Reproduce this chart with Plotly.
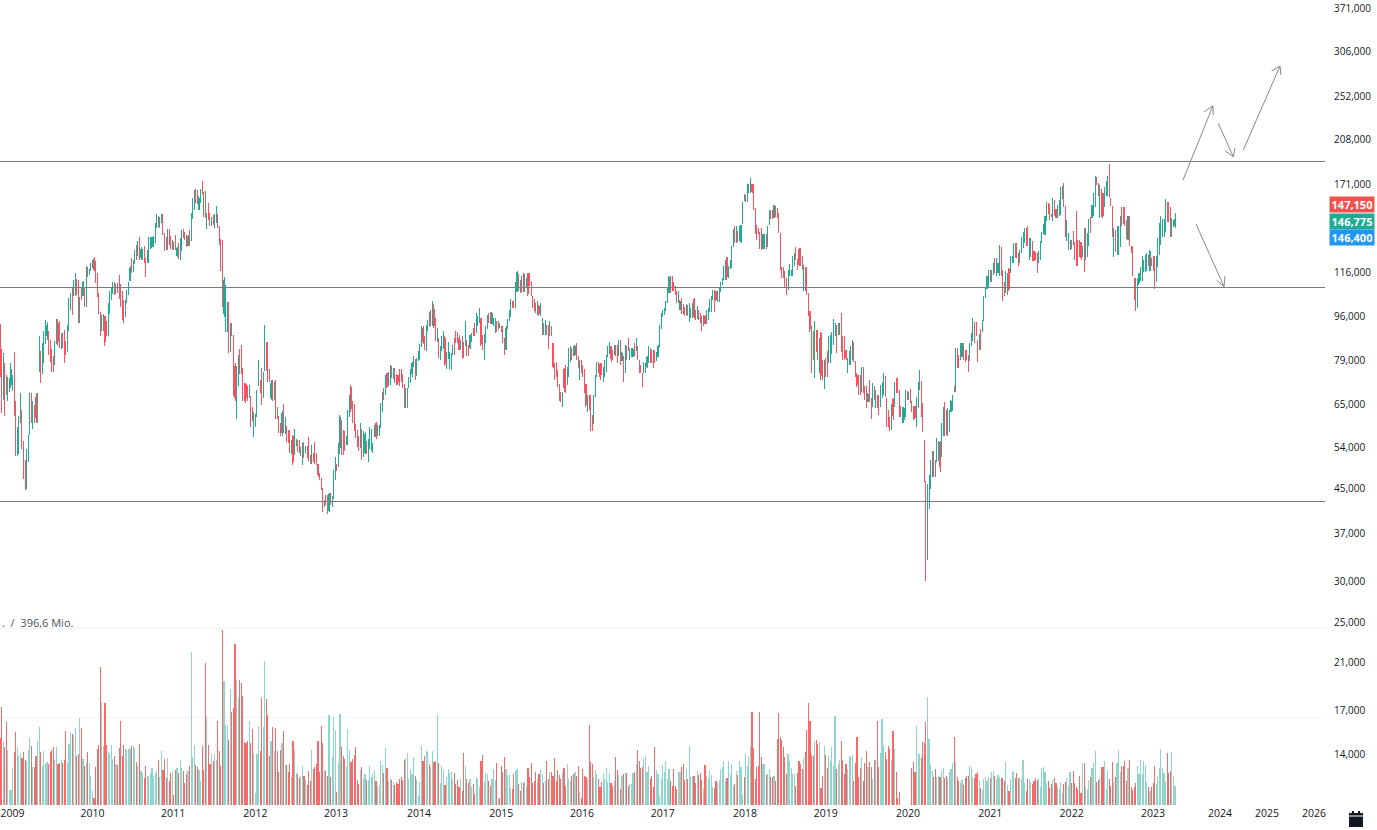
import plotly.graph_objects as go
import math

# Weekly candles (open, high, low, close) in thousands
candles_a = [
(88,92.7,73.6,76),(82,83,62.7,65),(68,81.6,66.5,79),(77,78,62,65),(73,74,68,70),(67,73.6,66,72),(69,73,69,72),(71,78,70,76),(72,74,69,73),(81,82,62,64),
(65,66,52,53),(53,59,52,58),(54,62,52.5,61),(61,68.4,60,67),(63,63.6,53.5,55),(55,55.5,47,48),(51,51,44.8,45.5),(46,53.5,45,52),(52,57,50.5,56),(57,68.4,57,67),
(68,68.4,60,61),(60,66,58.5,65),(64,65,60,61),(67,68.4,60,61.5),(61,68.4,60,67.5),(76,88,75,86),(82,82,71.5,73),(75,85.2,74.5,84),(79,90,78,88),(86,94.5,85,93),
(88,93.5,86.5,92),(89,90,81,82),(85,86.5,78.5,80),(82,83,75,77),(79,80.5,75,76),(78,86,77.5,85),(85,94.6,84.8,93),(93,94.6,84,86),(92,94,83.5,85),(84,89,83,88),
(87,89,83.5,85),(89,90.3,78,80),(85,86,81,82),(83,92.4,82,91),(90,104,90,103),(99,106,99,105),(107,108.5,96.5,98),(106,112.5,105,111),(106,116,105,114.5),(112,113,105.5,107),
(111,112.5,93,95),(95,104.5,93,103),(108,109,103,104),(105,112,105,111),(108,109,100,102),(101,119.5,100,118),(118,119,114,115),(115,118,115,117),(117,121,117,120),(119,123,119,122),
(123,124.5,117,118),(120,122,111,113),(113,116,104.5,106),(104,106,97,98),(97,97.5,88,89),(90,96.5,90,95),(91,97,90,96),(96,96,84,86),(93,94,88,89),(89,101.5,88,100),
(97,107,97,106),(104,109,103,108),(106,111.5,106,110),(110,111.5,105.5,107),(106,110.5,106,109.5),(110,111,106,107),(114,115,103.5,105),(108,110.5,100,102),(104,107,94.5,96),(98,103,93,94.5),
(96,103,96,102),(102,107.5,102,107),(106,111.5,105.5,110.5),(112,119.5,112,118.5),(123,124,116,117.5),(117,123,116.5,122),(121,128.5,121,127.5),(130,131,123,124),(125,133.5,125,132),(135,135.5,123,125),
(124,130,123,128.5),(124,129,123,128),(130,130.5,121,122.5),(123,124,114,115.5),(122,128,121,127),(122,136,121,134.5),(130,136,129,135),(130,136,129.5,135.5),(131,136.5,130,135),(133,144.5,132,143),
(142,150,141,149),(148,149,142,143),(143,148,141,147),(145,150,145,149),(148,150,137,138),(138,138,127.5,129),(134,136,128.5,130),(131,140.5,128.5,139),(140,140.5,131,132),(135,136.5,129,130),
(130,134,128,133),(132,133,128,129),(135,137,128,129.5),(125,130,124.5,129),(131,132,123.5,125),(124,135,123,134),(128,140,128,139),(139,140.5,135,136),(138,139,134,135),(136,137,130,131),
(131,137,130.5,136),(139,140,130.5,132),(134,151,134,150),(147,161,147,160),(153,167,153,165),(167,168,157.5,159),(164,167,157,158),(153,162.5,153,161),(158,168,158,167),(173,173,164,165),
(165,165.5,148,150),(158,166,147.5,149),(141,151,141,149.5),(157,157.5,146.5,148),(150,151,142.5,143.5),(143,148.5,142.5,147.5),(149,149.5,143,144),(142,150,141,149),(145,155.5,144.5,154.5),(149,150,141,142),
(142,142,131,132),(134,134.5,117,118),(122,134,100,102),(97,114,95.5,112),(90,110,89.5,108),(90,102,89.5,100),(101,102,81.5,83),(83,93,82,92),(93,93,88,89),(88,88.5,67.5,69),
(77,78,66,67),(62,77,61,75.5),(71,81,70.5,80),(82,83,74.5,76),(84,84.5,74.5,76),(76,76.3,66,67),(71,71.5,66,67),(71,71.5,65.5,67),(70,70.5,66,67),(67,71,67,70),
(67,67.5,59,60),(64,64.5,60.5,61),(57,63,56.5,62),(60,62.5,59,62),(62,69.5,61.7,69),(71,79,70.5,78),(72,72.5,68.5,69),(76,76.5,65,66),(67,75,67,74),(76,92.4,75.5,91),
(85,85.5,75.5,77),(85,85.5,72,73.5),(75.5,76,72,73),(67,72.5,66.5,71.5),(72,72.5,66,67),(67,72,66.5,71),(72,72.5,61,62),(64,64.5,61,61.5),(61.5,62,57.5,58),(59.5,60,56.8,57.5),
(57.5,63.2,56.8,62.5),(65,65,57.5,59),(57.5,61.5,57.3,61),(59,59.2,55.3,56),(58,58.3,55,55.5),(58,58.3,52.7,53.5),(53,55.8,52.3,55),(56.5,57,50,50.8),(53,58.5,52.2,57.5),(54.5,56,54.2,55.6),
(55.5,55.7,52.8,53.5),(55,55.6,52.7,53),(52.5,54,52,53.8),(50.5,54.9,50,54),(55,55.3,51.5,52),(53,54.2,52.7,54),(54,54.2,51.5,52),(56,56.5,50.8,51.5),(52,52.2,50.2,50.7),(50.7,54.5,50.2,54),
(52.5,52.7,50.5,51),(55,55.3,50.2,50.8),(52.5,52.7,49.9,50.3),(50,50.2,47.4,47.8),(48,48.1,46.7,47),(47,47.1,44.8,45.2),(45,45,40.7,41.8),(41.8,42.8,41.5,42.6),(43.5,43.8,41.8,42.2),(43.5,43.8,40.2,40.8),
(40.8,44.1,40.7,43.8),(44,44.1,41.9,42.3),(41.9,43.5,41.6,43),(43,48.8,43,48),(46.8,51.7,46.8,51),(50,50,48.6,48.8),(49.5,54.9,49.5,54),
]
candles_b = [
(54,62.2,52.5,61.5),(60,60.8,52.2,53),(58,58.3,52.2,53),(56,58,53,55),(54.7,56.6,54.5,56.3),(55,63.6,54.6,63),(63,67.9,61.7,67.5),(70,70.9,63.1,64),(64.5,66,60,61),(65,65.3,57.9,58.5),
(59.5,59.6,56.2,57),(58,58.3,54.1,55),(56.5,56.6,53.1,54),(54,60,53.8,59.5),(58,58.4,51,52),(52,58,51.8,57.5),(52.8,57.8,52.5,57),(55,55.5,52.5,53),(51.5,56,50.6,55.5),(55,59,53.5,58),
(53.5,58.5,53,58),(53,55,52.7,54.8),(56.8,59.6,56.5,59.3),(60,60.3,56,56.5),(57,59.6,56.8,59.2),(57,59.6,56.7,59.2),(59,65.5,58.8,65),(65,68.8,63,68),(69,70,66.5,67),(68,74,68,73.5),
(74.5,74.8,70,70.5),(71,75,70.5,74.5),(72,77.5,71,77),(76,77,73,73.5),(73,76.5,73,76),(76,76.3,71.5,72.5),(74,74.3,71,71.5),(74,74,71,72),(75.5,76,70.5,71.5),(75,76,72,72.5),
(74,74.5,70,70.5),(71,71.3,64,65),(65,70,64,69.5),(66,70,64,69),(70,73.6,70,73),(72,76,71.5,75.5),(74.5,78.4,73.5,78),(77,80.6,77,80),(79,79.5,72.6,73.5),(74,80,74,79),
(79,82.4,78.8,82),(80,85,79,84.5),(84,91.9,84,91),(91,91.7,85,86),(87,88,82.7,83.5),(83,92.4,82.5,91.5),(90,94.5,90,94),(95,97.7,91.5,92),(92,98.5,92,98),(92,102.5,92,101.5),
(99,101,91,92),(93,95,86,86.5),(86.5,91,85.5,90),(86,87,80,81),(80,84,79.2,83),(83,88,82.5,87),(84,90,83,89),(87,87.8,77,78),(76.5,82,76,81.5),(80,85.5,79.5,85),
(78,82,76,81),(76.5,81.5,75.8,81),(81,84.6,80.9,84),(86,87,81,81.5),(89,90,85.4,86),(88.5,89.5,85.4,86),(87,88.4,82.7,83),(83,86.4,82.7,86),(86,87.8,80,81),(84,85.5,80,81),
(84.5,93.9,84,93),(86,86.4,80.4,81),(84,84.6,80.4,81),(83.5,88.4,83,88),(86,89,85.5,88.5),(90.5,91,87.8,88),(93,93.2,87.8,88),(89.5,97.3,89,97),(92,96,91.7,95.5),(94,99.4,93.2,99),
(95,95.1,84,85),(88,88.5,82.7,83),(80,88.8,79.3,88),(86,91.7,85.2,91),(91,96.6,91,96),(95,97.3,93.2,94),(96,97.5,92.5,93),(93,97.5,92.5,97),(92.5,95.1,92,94.5),(89.5,95.1,89,94.5),
(93,94,89.5,90.5),(91,93.9,90.3,93),(93,93.2,91,91.5),(91.5,91.7,89.5,90),(91,91.7,85.2,86),(86,87,80.9,81.5),(83,91.7,82.7,91),(91,94.6,90.8,94),(94,98.7,93.9,98.5),(96,103.3,96,103),
(102,102.5,99.4,100),(102,102.5,99.4,100),(100,111.6,99.4,111),(107,116.8,107,116),(115,115,107,108),(112,112.4,106.2,107),(107,114.2,107,113.5),(114,115.9,106.5,108),(108,115.5,106.5,115),(109.5,113.3,109,112.8),
(115.5,115.9,104.7,106),(115,115.9,109.5,110.5),(110.5,111.8,104.7,105),(104.7,104.7,99.4,100),(102,103.3,98,98.7),(100,101.8,97.3,98),(97,102.5,96.6,102),(100,100.8,96.2,97),(96.5,101.8,96.2,101),(88.5,95.1,88.4,93),
(92.5,93.2,88.4,89.5),(89,94.5,88.4,94),(92,92.4,88.4,89),(91.5,92.4,83,84),(88,93.9,87.8,93),(91,91.7,87.8,88.5),(85,85.2,76.3,77),(78,78,72.5,73),(78,78.6,73.6,74),(75,75.8,70.4,71),
(71,71.3,66.2,67),(68,68.9,65.8,66),(65,68.9,64.5,68),(76,76.4,68.9,70),(77,77.5,68.4,70),(71,76.9,71,76),(75,83.4,73.6,82.5),(79,84,78.6,83.5),(83,83.4,79.2,80),(83,84,80.4,81),
(81,84.6,80.4,84),(85,85.2,79.2,80),(80,80.4,76.3,77),(73,79.2,72.5,78.5),(78.5,79.2,74.7,75),(77,77.5,73.6,74),(75.5,76,68.4,69),(71,71.3,64.5,65),(64,67.9,63.1,67),(67,67.9,63.6,64),
(67,67.9,57.9,58.5),(62,62.2,57.9,58.5),(60,67.9,60,67),(67.5,74.2,67.4,73.5),(74,78.6,73.6,78),(78,78.6,74.7,75),(77.5,78,72.5,73.5),(77.5,78,74.2,75),(72,76.9,71.9,76.5),(73.6,79.2,73.6,78.8),
(75.5,80.9,75.2,80.5),(80.5,84,80.4,83.5),(81.5,85.8,81.5,85.5),(84,84,78.6,79.5),(82,82.7,79.2,80),(81,84.6,80.9,84.2),(84,84.6,80.4,81),(84,84.6,78,79),(81,86.4,80.4,86),(86,86.4,77.5,78.5),
(79,81.8,79,81.5),(80,80.4,71.9,73),(75.5,84.6,74.7,84),(83.5,84,79.2,80),(86.9,87,82.2,83),(79.5,83.4,79.2,83),(80.5,83.4,80.4,83),(80.5,83.4,80.4,83),(85,85.2,80.4,81),(82.5,87,82.2,86.5),
(84,84,79.2,80),(79,79.2,74.7,75.5),(77,77.5,74.7,75),(74.5,74.7,70.4,71),(75,78.6,74.7,78),(75,78,74.7,77.5),(77,80.4,76.3,80),(78.5,84,78,83.5),(83,83.4,78,79),(82,82.7,78,79),
(82,82.7,76.3,77),(82,82.7,78,79),(79,82,79,81.5),(80.5,84.6,80.4,84),(84,92.4,84,92),(91,97.3,91,97),(96,98.7,96,98.5),(97,99.4,96.6,99),(98.5,102.5,98.5,102),(102,109,101.8,108.5),
(106.5,114.2,106.2,113.5),(113,114.2,106.2,107.5),(112,114.2,107,108),(110,111.6,107,107.5),(108,109.7,105.4,106),(106,107,101.8,102.5),(102,107,101.8,106.5),
]
candles_c = [
(99,103,98.5,102.5),(103,103.7,97,98),(100.5,101,97,97.5),(99.5,99.8,95.8,96.5),(96.5,101,96.5,100.5),(100,100.8,96,96.5),(95,101.8,93.5,101),(95.5,99.4,95,99),(95.5,101.8,95,101),(103,103.7,94.8,96),
(98.5,98.7,94.5,95),(95,100.5,94.8,100),(98,98.7,94.5,95),(97,97.3,93.2,94),(95,95.8,90,91),(92,96.5,91.7,96),(96,96.5,92.5,93),(93,98.7,92.5,98),(95,99.4,94.5,99),(98,103.3,97.6,103),
(98,104.7,98,104),(103,107.8,103,107.5),(107,107.8,97.6,99),(107,107,102.5,103),(102.5,107,102.5,106.5),(102.5,109,102.5,108.5),(107,111.5,107,111),(110,113.3,110,113),(112.5,119.5,112.5,119),(112.5,122.9,112.4,122),
(124,124.5,112.4,114),(113.5,119.5,113.3,119),(118.5,122.9,118.5,122.5),(120,130.5,118.7,130),(130,140.7,130,140),(142,142.7,132.2,134),(133,142.3,132.2,141.5),(139,139,133,134),(134,142.3,134,142),(133,143.3,132.2,143),
(144,158,144,157),(163.5,163.5,158.7,160),(158.5,163.5,158,163),(159,171,158.7,170),(165,171.5,164.7,171),(165,176,164.7,175),(171,171,164.7,166),(170,171,153,154),(154,154,137.3,139),(142,143.3,134,135),
(141,141.3,137.3,138),(138,138.7,129,130),(141,141.3,128,129),(129,137.8,129,137),(129,137.8,129,137),(137,137.8,129,130),(130,142.3,130,141.5),(143.5,152.6,143,152),(151,153,147,148),(150,153,147,147.5),
(148,156.3,147.5,156),(155,155.2,148.5,149.5),(153,154,147.5,148),(150,150.8,138.3,139),(138,138.3,117.5,118.5),(118.5,119.2,113.3,114.5),(118,119.2,113.3,114),(116,116.8,109,110),(112,113.3,105.4,106.5),(108,117.6,108,117),
(114.5,120.7,114.2,120),(114.5,117.6,114.2,117),(114.5,124.7,114.2,124),(120,126.6,119.5,126),(129.5,129.7,123,124),(123,123.3,117.6,118.5),(128.5,129.2,119.5,120.5),(128.5,129.2,119.5,120.5),(124,124.7,117.6,118.5),(108,120,107,119),
(118.5,119.2,107,108.5),(118.5,119.2,105.4,107),(106,106.2,95.8,97),(98,98,89.5,91),(91,91.7,74.7,76),(89,90,79.2,80),(73.5,93.9,73,92),(90,90.3,82,83),(90,90.3,79,81),(75,87.3,74.7,86),
(89,89.5,72.5,74),(79,79.2,72.5,73),(70,79.2,69.7,78),(79,79.8,73.6,75),(82,82.2,73.6,75),(78.5,87.8,78,87),(79,88.4,78,88),(81.5,89.5,81.5,89),(85,94.8,84.6,94),(88,93.2,87.8,92.8),
(92,92.4,81.5,83),(88.5,93.2,88.4,93),(88.5,93.2,88.4,92.5),(97,97.3,82,83.5),(87.5,87.8,79.2,81),(87,87.8,79.2,80),(82.5,82.7,79.2,80),(75,79.8,74.7,79.5),(77.5,82.2,77.5,82),(77.5,84,77.5,83.5),
(79.5,86.4,79.2,86),(85.5,85.8,78.6,79.5),(78.5,78.6,73.6,74.5),(74,74.7,70.4,71),(74,74,67.9,69),(73.8,73.8,67.9,68.5),(69,76.9,68.9,76.5),(76.5,76.9,68.4,69.5),(70.4,70.4,66.3,67),(70.4,70.4,64,65),
(66,68.4,65.9,68),(72,72.5,65.9,67),(66.5,66.9,61,62),(64.8,71.7,64.5,71),(70.4,70.4,66.3,67),(64.5,69.4,64,69),(67.7,67.9,64,65),(67.7,67.9,62.2,63),(64.8,70.9,64.5,70.5),(67,72,66.9,71.5),
(68,74.7,67.9,74),(73.5,73.6,67.4,68.5),(66.5,66.9,59.1,60),(63.5,63.6,59.1,60),(61.5,61.7,57.9,58.5),(59,65.3,58.3,65),(66.5,66.9,60.8,62),(64.8,72,64.5,71.5),(72.5,73,68.4,69.5),(72.5,73,68.4,69),
(69,69.4,61.7,62.5),(64.5,64.5,61.7,62),(60.5,64.5,60,64),(61,64.5,60,64),(62,69.4,61.7,69),(68.9,68.9,66.3,67),(66.5,68.9,66.3,68.7),(69.4,69.4,65.5,66),(66,66,63.1,63.5),(64.5,64.5,60.8,61.5),
(64.5,64.5,61,61.5),(60,67.4,59.1,67),(64.5,72,64,71.5),(69.9,75.6,69.4,75.3),(72,72,61.7,62.5),(65.3,65.3,57.7,58.5),(55.7,55.7,46.4,47.5),(46.4,46.5,30,31),(33,46,32.9,45),(41.3,47.8,41.1,47),
(45,51,44.9,50.5),(50,53,47.4,52.5),(52.5,53,47.4,48.5),(50.5,51,47.4,48),(50.6,56.3,50.5,56),(51,55.5,51,55.3),(55,55.5,48.5,49.5),(52,60,51.7,59.5),(57,64.5,56.8,64),(65.3,65.8,56.8,58),
(63.5,63.6,57,58),(57,64,56.6,63.5),(57.7,63.6,57.7,63),(63,66.3,63,66),(63.5,67.9,63.5,67.5),(70.4,70.4,68.9,69.5),(69,83.4,68.9,83),(83,83.4,76.3,78),(80.5,80.9,76.3,77),(79.5,85.2,79.2,85),
(80.5,85.2,80.4,85),(85,85.2,79.2,80),(82.5,82.7,78.6,79.5),(82.5,82.7,79.2,80),(80.5,80.9,75.2,76),(79,85.2,79,85),(84.5,89,84.5,88.5),(86.4,95.1,86.4,95),(93,93.4,85.2,86),(93,93.4,87.8,88.5),
(86,86.4,78.6,79.5),(82.7,88.9,82.7,88.5),(90.5,90.6,82.7,84),(89.5,94.3,89.5,94),(94,104.7,93.9,104),(104,109,104,108.5),(108.5,114.2,108.5,114),(109,117.6,109,117),(117,117.6,111.6,112.5),(112,117.6,111.7,117),
(115.5,121.2,115.1,121),(123.5,123.7,115.9,117),(114.5,123.7,114.2,123),(116,121.2,115.9,121),(114.5,131,114.2,130),(129.5,129.7,114.2,116),(117,117.6,102.5,104),(111,111.5,104.7,106),(107,116.8,106.2,116),(106,115.9,105.4,115),
(118,118.6,107,108.5),(116,124.7,115.9,124),(121.5,124.7,121.2,124.5),(121.5,132.2,121.2,132),(132,132.2,123.8,125),(131.5,132.2,124,125),(126,126.7,119.5,120.5),
]
candles_d = [
(121.5,128,121.2,127),(127,135.5,127,135),(130,138.6,129.5,138),(132.5,141,132.2,140.5),(140,141,130.5,131.5),(142,142.3,130.5,132),(123.5,135,122.9,134),(124.5,135,124.5,134.5),(133,133.2,122,123),(127.5,127.5,122,122.5),
(126.7,126.7,122.9,123.5),(126.5,126.7,115.7,116.5),(121.5,127.5,121.2,127),(123,133.2,122.9,133),(132.5,138.7,132.2,138),(138,144,137.5,143.5),(137.5,149,137.3,148.5),(146,158,145.5,157.5),(157,157,150,151),(156.5,157,146,147),
(150,150,148.5,149),(146,161.5,146,161),(159,159.5,149,150),(153,153,147.5,148),(148,156,148,155.5),(149.5,160,149.5,159.5),(150,169,149.5,168),(161,170,161,169.5),(172,172,155,156),(155,155,136,137),
(134,146,134,145.5),(128.5,138,128.5,137.5),(128.7,134,128.7,133.5),(133,134,128.7,129),(139,139.5,131,132),(132.5,133,123,124),(151,152,119.5,121),(133,134,119.5,121),(133,134,124.5,125),(132.5,133,123,124),
(124.5,130.5,124.5,130),(140.5,141,116.5,118),(123,141,123,140),(125,138,124.5,137.5),(131,147,131,146.5),(147.5,148,138,139),(148,156.5,148,156),(149.5,164.7,149.5,164),(155,177.2,155,176),(176,176,170.7,172),
(172,172,162.5,164),(148,170.5,148,170),(167,167,148,149),(164.7,164.7,147.5,149),(156,169,155,168.5),(163,174,163,173),(163,177.2,163,176),(186.7,186.7,162,164),(160,161,155.5,156.5),(155,155,136,137),
(124.5,141,124.5,140),(139.5,140,127,128),(126,142.3,126,141),(126,142.3,126,141.5),(130,149,130,148.5),(154.5,155,142.3,143.5),(154,155,144,145),(154.5,155,142.3,143),(146,146,134.5,136),(134.5,149,134.5,148.5),
(148.5,149,130.5,132),(130,130.5,126.5,127),(130,130.5,114.2,116),(113,113.5,103,105),(113,113.5,98,100),(99.5,113.5,99.5,113),(111,116,110,115.5),(112,118.8,112,118.5),(112,124.7,112,124),(117,122.9,116.5,122.5),
(116.5,125.5,116.5,125),(117,126.5,117,126),(125,125.5,119.5,120.5),(117,128,117,127.5),(123.7,123.7,119.5,120.5),(124.5,124.7,117,118),(124.5,124.7,108,109),(112,124.7,111.5,124),(119.5,135,119.5,134.5),(125.5,144.3,125.5,143.5),
(131.5,149,131,148.5),(136,147,135.5,146.5),(136,147,135.5,146.5),(139,160.7,139,160),(158,158.5,145,146),(158,158.5,145,146.5),(154,155,136,137.5),(136,147.5,135.5,147),(142.5,146,142.3,145.5),(143,151,141.3,146.775),
]
section_starts = [0, 217, 434, 651]

# Weekly volume in millions (a later run overrides an earlier one on overlap)
volume_a = [1270,1865,1200,1100,1580,1045,290,290,700,1000,1380,1100,940,980,890,1000,850,830,1050,1270,
1120,720,720,930,1220,1480,1000,750,1020,770,810,780,1000,1040,1100,850,1100,770,800,860]
volume_b = [800,860,1410,800,1160,1385,1350,1335,1470,925,970,1660,1470,875,740,800,1000,800,550,275,140,720,1070,1145,2630,1965,1115,1945,1145,1000,
960,1145,875,940,780,755,1085,1590,925,1135,1085,1040,1070,1070,1115,1115,1085,820,740,1160,655,600,515,750,560,550,610,705,550,610,
640,850,530,1020,660,865,515,895,455,610,640,190,660,700,610,850,705,640,420,590,640,740,2900,910,1145,755,720,660,455,1115,
660,2700,1700,1145,780,975,845,970,850,1600,1020,740,3330,2350,1525,1525,1230,2200,1775,1840,3050,2370,2030,2370,2320,2070,1200,1180,1210,1600,1180,1450,
990,235,960,1495,1035,2040,1490,2730,2015,1715,925,1210,1490,1020,1460,1035,625,1040,1180,1400,755,755,625]
volume_c = [755,755,625,770,530,1210,1040,600,580,515,550,750,550,470,380,640,455,1050,675,725,780,1220,630,1505,1180,660,640,550,1715,530,
915,1670,1420,245,800,1730,1100,925,875,720,1440,1050,815,880,945,1100,470,400,660,720,500,590,470,470,735,540,580,660,455,360,
385,845,755,610,1085,700,455,505,470,435,380,435,390,485,530,470,850,895,995,490,675,590,915,555,470,165,440,1115,845,925,
1020,1000,780,720,1020,820,840,1715,800,410,735,660,380,530,690,605,630,485,535,625,410,470,340,505,265,985,735,485,485,420,
340,400,200,530,490,345,825,950,430,610,605,465,360,515,690,465,790,120,130,735,630,905,680,565,565,335,310]
volume_d = [610,400,470,340,500,265,980,740,485,420,485,340,400,215,530,485,345,830,950,440,610,590,465,360,500,690,470,790,110,125,
740,620,905,690,565,565,330,295,580,640,675,390,265,440,420,435,360,705,530,800,410,465,620,485,590,690,590,415,465,830,
500,620,620,550,890,455,660,565,500,630,705,360,780,485,465,550,580,620,550,740,250,125,675,550,530,500,1525,820,770,530,
660,580,500,340,440,605,485,700,435,605,410,370,455,920,660,565,310,550,590,605,605,370,400,400,610,620,770,1050,830,705,
730,870,925,620,740,500,560,340,1100,660,580,170,485,755,620,830,500,690,455,360,690,360,300,620]
volume_e = [620,725,780,470,690,500,1115,530,530,560,420,655,565,610,470,315,755,550,485,640,565,350,330,455,420,470,690,720,830,455,
515,830,565,770,360,390,640,565,830,720,190,530,970,740,940,1100,1775,1085,485,720,740,1765,905,770,770,565,590,690,530,530,
550,455,1255,1745,1285,1230,1100,905,580,975,845,705,580,580,360,610,830,770,675,895,1000,1430,1945,1590,945,925,1210,1240,1165,1190,
330,550,1115,945,705,925,845,1100,740,1700,690,770,860,1220,860,580,780,675,925,915,945,465,800,1300,530,705,905,455,790,1020,
720,820,720,500,860,850,1600,720,990,1640,1115,1010,865,1115,1070,860,1410,1070,620,125,245]
volume_f = [710,825,635,1500,995,965,890,1200,1170,1580,2050,1250,760,640,540,675,540,560,525,640,700,520,560,520,630,680,790,1300,825,540,455,
410,475,375,510,560,545,740,720,540,515,580,625,475,330,290,500,530,460,540,520,630,650,550,500,570,540,520,520,450,820,
380,260,500,630,650,520,610,520,520,500,850,410,260,500,500,440,400,460,520,470,520,350,700,730,630,420,460,330,390,480,
520,410,350,310,430,230,395,430,510,370,620,420,640,425,350,300,560,230,790,800,340,300,480,525,710,790,1020,430,480,510,
720,720,840,300,640,490,360,820,430,540,800,1050,620,750,750,840,450,700,850,340,280,340,420,750,590,860,590,840,760,430,
340,260,340,420,750,390,550,700,1060,700,600,430,990,600,640,1000,560,370]
volume_starts = [0, 40, 182, 290, 434, 582]

# Support and resistance lines (thousands)
levels = [189.5, 109.0, 42.6]

# Hand-drawn arrows: shaft and two barbs, as (week, price in thousands)
arrow_shafts = [
    [(755.1, 174.4), (774.2, 241.5)],
    [(777.6, 223.6), (787.2, 193.2)],
    [(793.6, 198.9), (817.0, 287.6)],
    [(763.4, 143.7), (781.3, 109.2)],
]
arrow_barbs = [
    [(768.5, 235.2), (774.2, 241.5), (774.4, 231.8)],
    [(781.9, 198.3), (787.2, 193.2), (788.3, 200.9)],
    [(811.7, 281.4), (817.0, 287.6), (817.6, 276.5)],
    [(776.6, 112.4), (781.3, 109.2), (781.9, 114.4)],
]

price_ticks = [371000, 306000, 252000, 208000, 171000, 116000, 96000, 79000, 65000,
               54000, 45000, 37000, 30000, 25000, 21000, 17000, 14000]
year_labels = ["2009","2010","2011","2012","2013","2014","2015","2016","2017","2018",
               "2019","2020","2021","2022","2023","2024","2025","2026"]
year_weeks = [8,59,110.5,163,214.5,267.5,320,371.5,423,475.5,527,579.5,632,684,736,778.7,808.7,838.7]
price_tags = [("147,150", "#ef5350"), ("146,775", "#22ab94"), ("146,400", "#2196f3")]
volume_note = ".  /  396,6 Mio."

GREEN, RED = "#22ab94", "#f7525f"
VGREEN, VRED = "#8ed5cc", "#f76a6a"
LINE = "#787b86"
ARROW = "#868993"

xs, o, h, l, c = [], [], [], [], []
for start, sec in zip(section_starts, [candles_a, candles_b, candles_c, candles_d]):
    for j, row in enumerate(sec):
        xs.append(start + j)
        o.append(row[0] * 1000); h.append(row[1] * 1000)
        l.append(row[2] * 1000); c.append(row[3] * 1000)
is_up = {x: cc >= oo for x, oo, cc in zip(xs, o, c)}

vol_by_week = {}
for start, sec in zip(volume_starts, [volume_a, volume_b, volume_c, volume_d, volume_e, volume_f]):
    for j, v in enumerate(sec):
        vol_by_week[start + j] = v
vx = [x for x in sorted(vol_by_week) if x in is_up]
vy = [vol_by_week[x] for x in vx]
vc = [VGREEN if is_up[x] else VRED for x in vx]

W, H = 1377, 830
PW, PH = 1325, 805
X_MAX = PW / 1.5667

fig = go.Figure()
fig.add_trace(go.Bar(x=vx, y=vy, marker=dict(color=vc, line_width=0), width=0.72,
                     yaxis="y2", xaxis="x", hoverinfo="skip", showlegend=False))
for lv in levels:
    fig.add_trace(go.Scatter(x=[0, X_MAX], y=[lv * 1000] * 2, mode="lines",
                             line=dict(color=LINE, width=1), hoverinfo="skip", showlegend=False))
fig.add_trace(go.Candlestick(x=xs, open=o, high=h, low=l, close=c,
                             increasing=dict(line=dict(color=GREEN, width=1), fillcolor=GREEN),
                             decreasing=dict(line=dict(color=RED, width=1), fillcolor=RED),
                             whiskerwidth=0, hoverinfo="skip", showlegend=False))
for path in arrow_shafts + arrow_barbs:
    fig.add_trace(go.Scatter(x=[p[0] for p in path], y=[p[1] * 1000 for p in path], mode="lines",
                             line=dict(color=ARROW, width=1), hoverinfo="skip", showlegend=False))

def px(x): return x / PW
def py(y): return (PH - y) / PH

annotations = []
for (text, col), yc in zip(price_tags, [204, 221, 237.5]):
    annotations.append(dict(text=f"<b>{text}</b>", x=px(1352), y=py(yc), xref="paper", yref="paper",
                            xanchor="center", yanchor="middle",
                            showarrow=False, bgcolor=col, width=44, height=15, borderpad=0,
                            font=dict(color="white", size=11, family="Open Sans")))
annotations.append(dict(text=volume_note, x=0, y=py(622), xref="paper", yref="paper", xanchor="left",
                        yanchor="middle", showarrow=False,
                        font=dict(color="#50535e", size=11, family="Open Sans")))

shapes = [
    dict(type="rect", xref="paper", yref="paper", x0=px(1349), x1=px(1363), y0=py(813), y1=py(827),
         fillcolor="#131722", line_width=0),
    dict(type="rect", xref="paper", yref="paper", x0=px(1352), x1=px(1354), y0=py(811), y1=py(814),
         fillcolor="#131722", line_width=0),
    dict(type="rect", xref="paper", yref="paper", x0=px(1358), x1=px(1360), y0=py(811), y1=py(814),
         fillcolor="#131722", line_width=0),
    dict(type="line", xref="paper", yref="paper", x0=px(1349), x1=px(1363), y0=py(816), y1=py(816),
         line=dict(color="white", width=1)),
]

fig.update_layout(
    width=W, height=H, margin=dict(l=0, r=W - PW, t=0, b=H - PH),
    paper_bgcolor="white", plot_bgcolor="white", showlegend=False, barmode="overlay", boxgap=0.9,
    font=dict(family="Open Sans", size=11, color="#131722"),
    xaxis=dict(range=[0, X_MAX], tickmode="array", tickvals=year_weeks, ticktext=year_labels,
               showgrid=False, zeroline=False, showline=False, ticks="", rangeslider=dict(visible=False),
               tickfont=dict(size=10.5, color="#131722"), ticklen=0, tickangle=0, ticklabeloverflow="allow"),
    yaxis=dict(type="log", side="right", range=[math.log10(11223), math.log10(384300)], tickmode="array",
               tickvals=price_ticks, ticktext=[f"{t:,}" for t in price_ticks], showgrid=False, zeroline=False,
               showline=False, ticks="outside", ticklen=6, tickcolor="rgba(0,0,0,0)",
               tickfont=dict(size=10, color="#131722"), domain=[0, 1], ticklabeloverflow="allow"),
    yaxis2=dict(domain=[0, 178 / PH], range=[0, 178 * 19], anchor="x", side="left", showticklabels=False,
                tickmode="array", tickvals=[88 * 19, 176.5 * 19], showgrid=True, gridcolor="#f0f3fa",
                gridwidth=1, zeroline=False, showline=False, ticks=""),
    annotations=annotations, shapes=shapes,
)
css = ("<style>.boxlayer path,.barlayer path{shape-rendering:crispEdges}"
       ".scatterlayer .trace:nth-child(-n+3) .js-line{shape-rendering:crispEdges}</style>")
fig.write_html("out.html", config={"staticPlot": True},
               post_script=f"document.body.style.margin='0';document.head.insertAdjacentHTML('beforeend','{css}');")
